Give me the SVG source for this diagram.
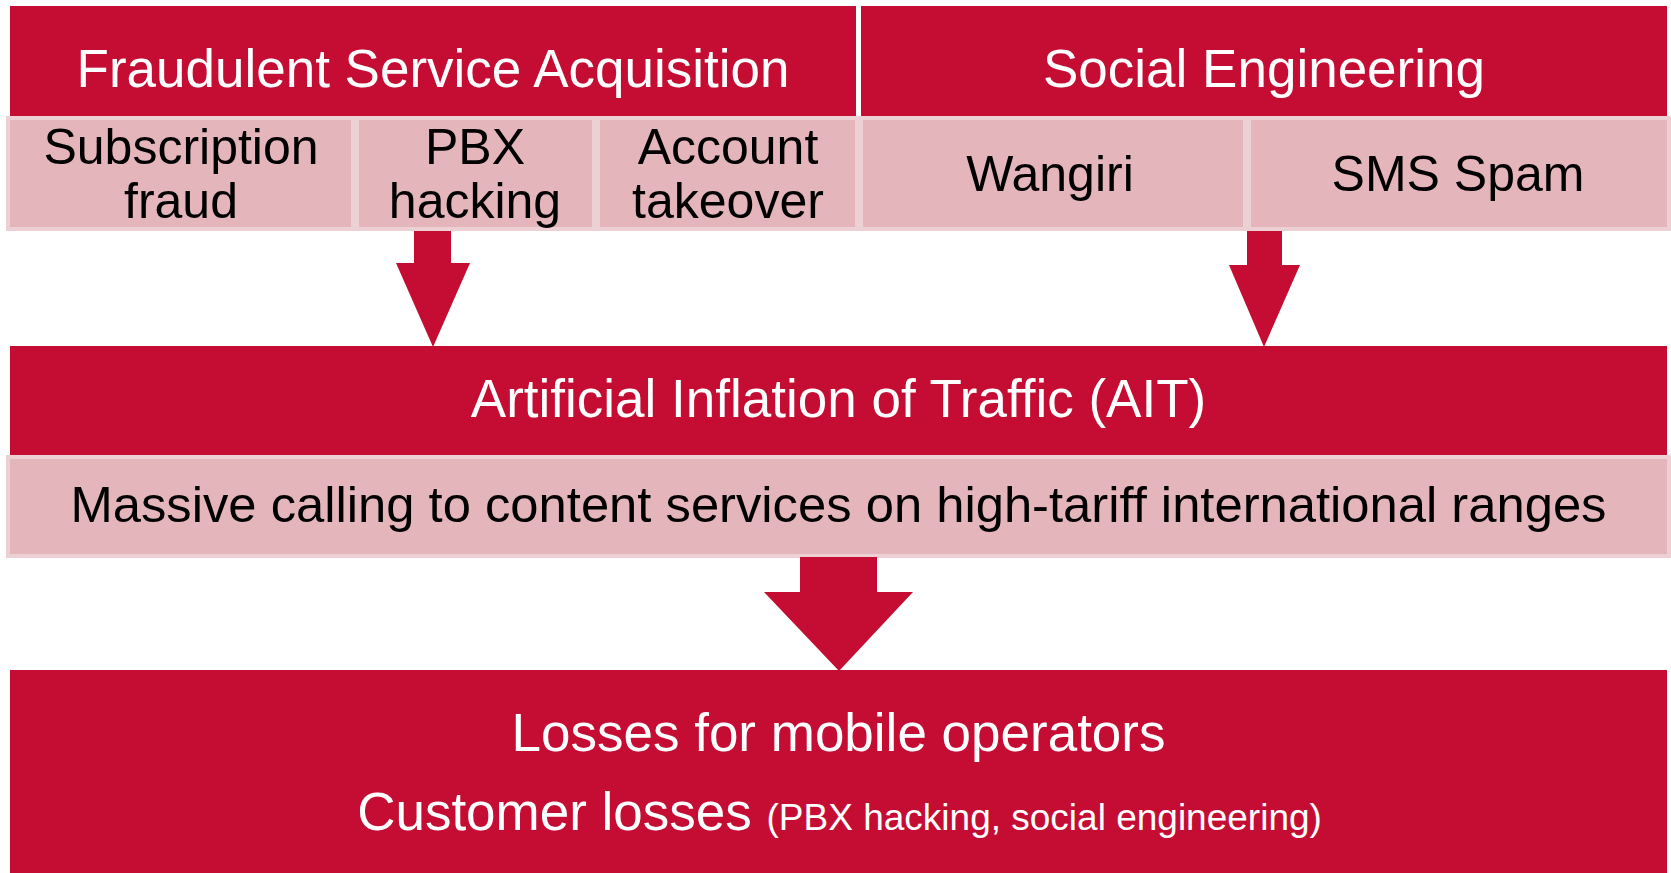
<svg xmlns="http://www.w3.org/2000/svg" width="1671" height="873" viewBox="0 0 1671 873">
<style>
.red{fill:#c50d33}
.cell{fill:#e5b5bc;stroke:#ecd0d3;stroke-width:4}
.wt{fill:#ffffff;font-family:"Liberation Sans",Arial,sans-serif;text-anchor:middle}
.bt{fill:#000000;font-family:"Liberation Sans",Arial,sans-serif;text-anchor:middle;font-size:50px}
.arrow{fill:#c50d33}
</style>
<rect width="1671" height="873" fill="#ffffff"/>
<g id="fraudulent-service-acquisition">
<rect class="red" x="10" y="6" width="846" height="110"/>
<text class="wt" x="433" y="87" font-size="53">Fraudulent Service Acquisition</text>
</g>
<g id="social-engineering">
<rect class="red" x="861" y="6" width="806" height="110"/>
<text class="wt" x="1264" y="87" font-size="53">Social Engineering</text>
</g>
<g id="subscription-fraud">
<rect class="cell" x="8" y="118" width="345" height="111"/>
<text class="bt" x="181" y="164">Subscription</text>
<text class="bt" x="181" y="218">fraud</text>
</g>
<g id="pbx-hacking">
<rect class="cell" x="357" y="118" width="237" height="111"/>
<text class="bt" x="475" y="164">PBX</text>
<text class="bt" x="475" y="218">hacking</text>
</g>
<g id="account-takeover">
<rect class="cell" x="598" y="118" width="259" height="111"/>
<text class="bt" x="728" y="164">Account</text>
<text class="bt" x="728" y="218">takeover</text>
</g>
<g id="wangiri">
<rect class="cell" x="861" y="118" width="384" height="111"/>
<text class="bt" x="1050" y="191">Wangiri</text>
</g>
<g id="sms-spam">
<rect class="cell" x="1249" y="118" width="420" height="111"/>
<text class="bt" x="1458" y="191">SMS Spam</text>
</g>
<g id="ait">
<rect class="red" x="10" y="346" width="1657" height="109"/>
<text class="wt" x="838.5" y="417" font-size="53">Artificial Inflation of Traffic (AIT)</text>
</g>
<g id="massive-calling">
<rect class="cell" x="8" y="457" width="1661" height="99"/>
<text class="bt" x="838.5" y="522" font-size="51" textLength="1536" lengthAdjust="spacingAndGlyphs">Massive calling to content services on high-tariff international ranges</text>
</g>
<g id="losses">
<rect class="red" x="10" y="670" width="1657" height="203"/>
<text class="wt" x="838.5" y="751" font-size="53">Losses for mobile operators</text>
<text class="wt" x="839.5" y="830" font-size="53">Customer losses <tspan font-size="37">(PBX hacking, social engineering)</tspan></text>
</g>
<g id="connectors">
<polygon class="arrow" points="414,231 451,231 451,263 470,263 433,347 396,263 414,263"/>
<polygon class="arrow" points="1247,231 1282,231 1282,265 1300,265 1264,347 1229,265 1247,265"/>
<polygon class="arrow" points="800,557 877,557 877,592 913,592 839,671 764,592 800,592"/>
</g>
</svg>
